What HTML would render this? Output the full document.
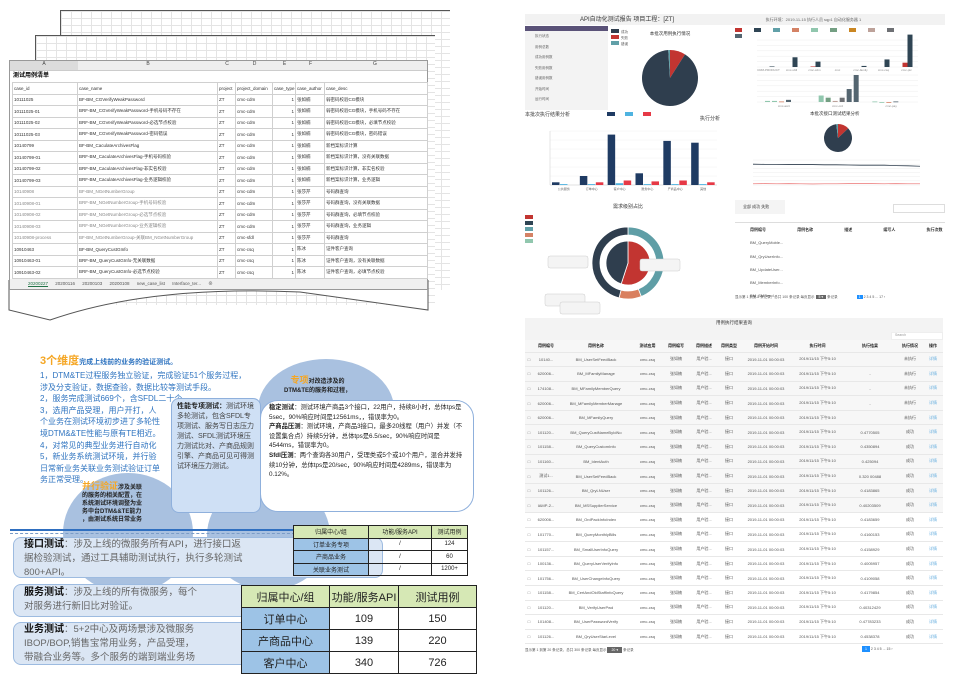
<!DOCTYPE html>
<html><head><meta charset="utf-8">
<style>
*{margin:0;padding:0;box-sizing:border-box}
body{width:954px;height:683px;background:#fff;position:relative;overflow:hidden;font-family:"Liberation Sans","Noto Sans CJK SC",sans-serif}
.a{position:absolute}
.grid{background-color:#fff;background-image:linear-gradient(#e4e4e4 1px,transparent 1px),linear-gradient(90deg,#e4e4e4 1px,transparent 1px);background-size:10px 7px}
table{border-collapse:collapse}
.xs td{font-size:4.5px;color:#333;border:1px solid #d0d0d0;height:11.5px;padding:0 1px;white-space:nowrap;overflow:hidden}
.bl{color:#2f74c0;font-size:8px;line-height:11.6px;white-space:nowrap}
.rt{font-size:10px;font-weight:bold;color:#111}
.bt td{border:1px solid #222;text-align:center}
.dt td{font-size:4px;color:#555;height:14.6px;border-bottom:1px solid #e8e8e8;text-align:center;white-space:nowrap;overflow:hidden}
</style></head><body>

<!-- spreadsheet stack -->
<div class="a grid" style="left:60px;top:10px;width:390px;height:280px;border-top:1.5px solid #555;border-left:1.5px solid #555"></div>
<div class="a grid" style="left:35px;top:35px;width:400px;height:270px;border-top:1.5px solid #555;border-left:1.5px solid #555"></div>
<svg class="a" style="left:0;top:280px" width="440" height="45"><path d="M9 0 V30 L50 40 Q150 5 300 12 L428 30 V0 Z" fill="#fff" stroke="#555" stroke-width="1"/><path d="M428 0 V30" stroke="#555"/></svg>
<div class="a" style="left:9px;top:60px;width:419px;height:230px;background:#fff;border:1px solid #999">
 <div style="height:10px;background:#eee;font-size:5px;color:#444;display:flex;border-bottom:1px solid #ccc">
  <span style="width:68px;text-align:center;background:#dcdcdc">A</span><span style="width:140px;text-align:center">B</span><span style="width:18px;text-align:center">C</span><span style="width:37px;text-align:center">D</span><span style="width:23px;text-align:center">E</span><span style="width:29px;text-align:center">F</span><span style="width:100px;text-align:center">G</span></div>
 <div style="height:11px;font-size:6px;font-weight:bold;padding-left:3px;line-height:11px">测试用例清单</div>
 <table class="xs" id="sheet" style="width:415px;margin-left:2px;table-layout:fixed">
  <colgroup><col style="width:65px"><col style="width:140px"><col style="width:18px"><col style="width:37px"><col style="width:23px"><col style="width:29px"><col style="width:103px"></colgroup>
 </table>
 <div style="position:absolute;left:0;top:218px;width:417px;height:10px;background:#f0f0f0;font-size:4.5px;color:#555;line-height:10px;padding-left:18px;word-spacing:6px"><span style="color:#217346;text-decoration:underline">20200227</span> 20200116 20200103 20200108 new_case_list Interface_ter... ⊕</div>
</div>

<!-- dashboard -->
<div class="a" style="left:525px;top:14px;width:420px;height:292px;background:#fff">
 <div style="height:11px;background:#f2f2f2;font-size:6px;color:#333;line-height:11px;padding-left:55px">API自动化测试报告 项目工程：[ZT] <span style="margin-left:90px;font-size:4px;color:#666">执行环境：2019-11-15 执行人员 sqp1 自动化服务器 1</span></div>
 <div style="position:absolute;left:0;top:12px;width:83px;height:84px;background:#f3f3f3">
  <div style="height:5px;background:#5a5278"></div>
  <div style="font-size:3.5px;color:#666;line-height:10.5px;padding-left:10px">执行状态<br>用例总数<br>成功用例数<br>失败用例数<br>错误用例数<br>开始时间<br>运行时间</div>
 </div>
 <svg class="a" style="left:83px;top:12px" width="150" height="86" id="pie1"></svg>
 <svg class="a" style="left:210px;top:12px" width="210" height="95" id="bars2"></svg>
 <svg class="a" style="left:0;top:96px" width="200" height="90" id="bars1"></svg>
 <svg class="a" style="left:170px;top:96px" width="230" height="90" id="trend"></svg>
 <svg class="a" style="left:0;top:186px" width="210" height="120" id="donut"></svg>
 <div style="position:absolute;left:210px;top:186px;width:210px;height:90px;font-size:4px;color:#333">
  <div style="height:14px;line-height:14px;padding-left:8px;background:#f4f4f4;width:50px">全部 成功 失败</div>
  <div style="position:absolute;right:0;top:4px;width:52px;height:9px;border:1px solid #ddd"></div>
  <div style="margin-top:8px;border-top:1px solid #ddd;line-height:13.3px;padding-left:15px;font-weight:bold;word-spacing:30px">用例编号 用例名称 描述 编写人 执行次数</div>
  <div style="line-height:13.3px;padding-left:15px;color:#555">BM_QueryMoble...<br>BM_QryUserInfo...<br>BM_UpdateUser...<br>BM_MemberInfo...<br>BM_SMSend...</div>
 </div>
 <div style="position:absolute;left:210px;top:278px;width:210px;height:10px;font-size:3.5px;color:#555;line-height:10px">显示第 1 到第 5 条记录，总共 100 条记录 每页显示 <span style="background:#666;color:#fff;padding:0 3px">5 ▾</span> 条记录 <span style="margin-left:18px;background:#1e90ff;color:#fff;padding:0 2px">1</span> 2 3 4 5 ... 17 ›</div>
</div>

<!-- slide bottom-left -->
<div class="a" style="left:0;top:330px;width:500px;height:353px">
 <div class="a" style="left:258px;top:29px;width:136px;height:100px;border-radius:50%;background:#a9c1e0"></div>
 <div class="a" style="left:63px;top:143px;width:130px;height:120px;border-radius:50%;background:#a9c1e0"></div>
 <div class="a" style="left:207px;top:150px;width:123px;height:110px;border-radius:50%;background:#a9c1e0"></div>
 <div class="a" style="left:40px;top:22px;font-size:11px;font-weight:bold;color:#f5a623">3个维度<span style="font-size:7px;color:#2f74c0">完成上线前的业务的验证测试。</span></div>
 <div class="a bl" style="left:40px;top:40px">1，DTM&amp;TE过程服务独立验证，完成验证51个服务过程，<br>涉及分支验证，数据查验，数据比较等测试手段。<br>2，服务完成测试669个，含SFDL二十个<br>3，选用产品受理，用户开打，人<br>个业务在测试环境初步进了多轮性<br>境DTM&amp;&amp;TE性能与原有TE相近。<br>4，对常见的典型业务进行自动化<br>5，新业务系统测试环境，并行验<br>日常新业务关联业务测试验证订单<br>务正常受理。</div>
 <div class="a" style="left:284px;top:46px;font-size:6px;color:#222;font-weight:bold;text-align:center;line-height:9px"><span style="color:#f5a623;font-size:9px">专项</span>对改造涉及的<br>DTM&amp;TE的服务和过程，</div>
 <div class="a" style="left:82px;top:152px;font-size:6px;color:#222;font-weight:bold;line-height:8px"><span style="color:#f5a623;font-size:9px">并行验证</span>涉及关联<br>的服务的相关配置，在<br>系统测试环境调整为业<br>务中台DTM&amp;&amp;TE能力<br>，由测试系统日常业务</div>
 <div class="a" style="left:222px;top:221px;font-size:6px;color:#222;font-weight:bold;line-height:8px">盖包括BOP、IBOP、UIG<br>接入、AOP接入。</div>
 <div class="a" style="left:171px;top:68px;width:90px;height:115px;background:#cfe0f5;border:1px solid #8fb0dc;border-radius:8px;font-size:7px;color:#444;line-height:10px;padding:3px 5px"><b style="color:#222">性能专项测试：</b>测试环境多轮测试，包含SFDL专项测试、服务写日志压力测试、SFDL测试环境压力测试比对、产商品规则引擎、产商品可见可得测试环境压力测试。</div>
 <div class="a" style="left:260px;top:70px;width:214px;height:112px;background:#fff;border:1px solid #8fb0dc;border-radius:18px;font-size:6.3px;color:#222;line-height:9.6px;padding:2px 8px 2px 8px"><b>稳定测试</b>：测试环境产商品3个接口，22用户，持续8小时，总体tps是5sec，90%响应时间是12561ms，，错误率为0。<br><b>产商品压测</b>：测试环境，产商品3接口，最多20线程（用户）并发（不设置集合点）持续5分钟，总体tps是6.5/sec，90%响应时间是4544ms，错误率为0。<br><b>Sfdl压测</b>：两个查询各30用户，受理类或5个或10个用户，混合并发持续10分钟，总体tps是20/sec，90%响应时间是4289ms，错误率为0.12%。</div>
 <div class="a" style="left:10px;top:199px;width:285px;height:2px;background:#2f6fc0"></div>
 <div class="a" style="left:10px;top:203px;width:285px;border-top:1px dashed #7a9cc8"></div>
 <div class="a" style="left:13px;top:207px;width:370px;height:41px;background:#dbe6f4;border:1.5px solid #9dbbe0;border-radius:8px;font-size:9.5px;color:#666;line-height:14px;padding:0 10px"><span class="rt">接口测试</span>：涉及上线的微服务所有API，进行接口返<br>据检验测试，通过工具辅助测试执行，执行多轮测试<br>800+API。</div>
 <div class="a" style="left:13px;top:254px;width:240px;height:33px;background:#dbe6f4;border:1.5px solid #9dbbe0;border-radius:8px;font-size:9.5px;color:#666;line-height:14px;padding:1px 10px;overflow:hidden;white-space:nowrap"><span class="rt">服务测试</span>：涉及上线的所有微服务，每个<br>对服务进行新旧比对验证。</div>
 <div class="a" style="left:13px;top:292px;width:240px;height:43px;background:#dbe6f4;border:1.5px solid #9dbbe0;border-radius:8px;font-size:9.5px;color:#666;line-height:14px;padding:0 10px;overflow:hidden;white-space:nowrap"><span class="rt">业务测试</span>：5+2中心及两场景涉及微服务<br>IBOP/BOP,销售宝常用业务，产品受理，<br>带融合业务等。多个服务的端到端业务场</div>
 <table class="a bt" style="left:293px;top:195px;width:175px;font-size:6px;color:#222">
  <tr style="height:12.5px;background:#d6e8b5"><td style="width:75px">归属中心/组</td><td style="width:63px">功能/服务API</td><td>测试用例</td></tr>
  <tr style="height:12.5px"><td style="background:#9dc3e6">订单业务专项</td><td>/</td><td>124</td></tr>
  <tr style="height:12.5px"><td style="background:#9dc3e6">产商品业务</td><td>/</td><td>60</td></tr>
  <tr style="height:12.5px"><td style="background:#9dc3e6">关联业务测试</td><td>/</td><td>1200+</td></tr>
 </table>
 <table class="a bt" style="left:241px;top:255px;width:236px;font-size:11px;color:#222">
  <tr style="height:22px;background:#d6e8b5"><td style="width:88px">归属中心/组</td><td style="width:69px">功能/服务API</td><td>测试用例</td></tr>
  <tr style="height:22px"><td style="background:#9dc3e6">订单中心</td><td>109</td><td>150</td></tr>
  <tr style="height:22px"><td style="background:#9dc3e6">产商品中心</td><td>139</td><td>220</td></tr>
  <tr style="height:22px"><td style="background:#9dc3e6">客户中心</td><td>340</td><td>726</td></tr>
 </table>
</div>

<!-- bottom-right list -->
<div class="a" style="left:525px;top:318px;width:418px;height:340px;background:#fff">
 <div style="height:22px;background:#f3f3f3;font-size:4.5px;text-align:center;color:#333;line-height:10px">用例执行结果查询</div>
 <div style="position:absolute;right:0;top:14px;width:52px;height:8px;background:#fff;border:1px solid #eee;font-size:3.5px;color:#999;padding-left:3px">Search</div>
 <table class="dt" id="dtab" style="width:418px;table-layout:fixed;background:#f7f7f7"></table>
 <div style="position:absolute;left:0;top:330px;width:418px;font-size:3.5px;color:#555">显示第 1 到第 20 条记录，总共 300 条记录 每页显示 <span style="background:#666;color:#fff;padding:1px 4px">20 ▾</span> 条记录<span style="position:absolute;left:337px;top:-1px"><span style="background:#1e90ff;color:#fff;padding:1px 3px">1</span> 2 3 4 5 ... 15 ›</span></div>
</div>

<script>
var NS='http://www.w3.org/2000/svg';
function el(p,t,a){var e=document.createElementNS(NS,t);for(var k in a)e.setAttribute(k,a[k]);p.appendChild(e);return e;}
// spreadsheet data
var caseIds=['10111025','10111025-01','10111025-02','10111025-03','10140799','10140799-01','10140799-02','10140799-03','10140908','10140908-01','10140908-02','10140908-03','10140908-process','10910463','10910463-01','10910463-02'];
var caseNames=['BF-BM_CGVerifyWeakPassword','BRF-BM_CGVerifyWeakPassword-手机号码不存在','BRF-BM_CGVerifyWeakPassword-必选节点校验','BRF-BM_CGVerifyWeakPassword-密码错误','BF-BM_CaculateArchivesFlag','BRF-BM_CaculateArchivesFlag-手机号码校验','BRF-BM_CaculateArchivesFlag-非实名校验','BRF-BM_CaculateArchivesFlag-业务逻辑校验','BF-BM_NGetNumberGroup','BRF-BM_NGetNumberGroup-手机号码校验','BRF-BM_NGetNumberGroup-必选节点校验','BRF-BM_NGetNumberGroup-业务逻辑校验','BF-BM_NGetNumberGroup-关联BM_NGetNumberGroup','BF-BM_QueryCustGInfo','BRF-BM_QueryCustGInfo-无关联数据','BRF-BM_QueryCustGInfo-必选节点校验'];
var caseDomains=['cmc-cdm','cmc-cdm','cmc-cdm','cmc-cdm','cmc-cdm','cmc-cdm','cmc-cdm','cmc-cdm','cmc-cdm','cmc-cdm','cmc-cdm','cmc-cdm','cmc-sfdl','cmc-csq','cmc-csq','cmc-csq'];
var caseAuthors=['张如楠','张如楠','张如楠','张如楠','张如楠','张如楠','张如楠','张如楠','张莎芹','张莎芹','张莎芹','张莎芹','张莎芹','陈冰','陈冰','陈冰'];
var caseDescs=['弱密码校验CG模块','弱密码校验CG模块，手机号码不存在','弱密码校验CG模块，必填节点校验','弱密码校验CG模块，密码错误','新档案标识计算','新档案标识计算，没有关联数据','新档案标识计算，非实名校验','新档案标识计算，业务逻辑','号码群查询','号码群查询，没有关联数据','号码群查询，必填节点校验','号码群查询，业务逻辑','号码群查询','证件客户查询','证件客户查询，没有关联数据','证件客户查询，必填节点校验'];
var sh=document.getElementById('sheet');
var hr=sh.insertRow();
['case_id','case_name','project','project_domain','case_type','case_author','case_desc'].forEach(function(h){var c=hr.insertCell();c.textContent=h;});
for(var i=0;i<caseIds.length;i++){var r=sh.insertRow();


[caseIds[i],caseNames[i],'ZT',caseDomains[i],'1',caseAuthors[i],caseDescs[i]].forEach(function(v,j){var c=r.insertCell();c.textContent=v;if(j==4)c.style.textAlign='right';if(i>=8&&i<=12&&(j==0||j==1))c.style.color='#888';});}

// pie 1
var pieLabels=['成功','失败','错误'];
var pieValues=[90,9,1];
var pieColors=['#2f3e4e','#c23531','#61a0a8'];
(function(){var s=document.getElementById('pie1');var cx=62,cy=52,r=28;var tot=pieValues.reduce(function(a,b){return a+b},0);
var t=el(s,'text',{x:62,y:9,'font-size':4.5,'text-anchor':'middle',fill:'#333'});t.textContent='本批次用例执行情况';
pieLabels.forEach(function(l,i){var rr=el(s,'rect',{x:3,y:3+i*6,width:8,height:4,fill:pieColors[i]});var tt=el(s,'text',{x:13,y:7+i*6,'font-size':3.5,fill:'#555'});tt.textContent=l;});
var order=[1,0,2];var ang=-Math.PI/2;order.forEach(function(i){var a=pieValues[i]/tot*2*Math.PI;var x1=cx+r*Math.cos(ang),y1=cy+r*Math.sin(ang),x2=cx+r*Math.cos(ang+a),y2=cy+r*Math.sin(ang+a);
var p=el(s,'path',{d:'M'+cx+' '+cy+'L'+x1+' '+y1+'A'+r+' '+r+' 0 '+(a>Math.PI?1:0)+' 1 '+x2+' '+y2+'Z',fill:pieColors[i]});ang+=a;});})();

// bar charts top right
var appCats=['CRM-PRODUCT','cmc-sfdl','cmc-cdm','cmc','cmc-family','cmc-csq','cmc-ptc'];
var appSeriesA=[0,18,0,0,0,0,12];
var appSeriesB=[1,0,10,0,2,14,48];
var appSeriesR=[0,0,1,0,0,0,8];
var appCats2=['cmc-acct','cmc-ord','cmc-pay'];
var app2Values=[[2,2,1,4],[12,8,2,8,24,50],[1,0,0,1]];
(function(){var s=document.getElementById('bars2');var cols=['#c23531','#2f4554','#61a0a8','#d48265','#91c7ae','#749f83','#ca8622','#bda29a','#6e7074','#546570'];
for(var i=0;i<10;i++){el(s,'rect',{x:(i<9?i*19:0),y:(i<9?2:8),width:7,height:4,fill:cols[i]});}
var X0=22,X1=183;
function chart(y0,h){for(var k=0;k<=5;k++){el(s,'line',{x1:X0,x2:X1,y1:y0+h-h*k/5,y2:y0+h-h*k/5,stroke:'#eee','stroke-width':0.5});}}
chart(14,27);chart(49,27);
var w=(X1-X0)/appCats.length;var sy=function(v){return 41-v/50*27};
appCats.forEach(function(c,i){var x0=X0+i*w;
[appSeriesR[i],appSeriesA[i]+appSeriesB[i]].forEach(function(v,j){var b=el(s,'rect',{x:x0+w/2-4+j*5,y:sy(v),width:5,height:41-sy(v),fill:j?'#2f4554':'#c23531'});});
var t=el(s,'text',{x:x0+w/2,y:45,'font-size':3,'text-anchor':'middle',fill:'#888'});t.textContent=c;});
var w2=(X1-X0)/appCats2.length;var c2=['#91c7ae','#91c7ae','#d48265','#546570'];
appCats2.forEach(function(c,i){var vs=app2Values[i];vs.forEach(function(v,j){var x=X0+i*w2+8+j*7;var h=v/50*27;var b=el(s,'rect',{x:x,y:76-h,width:5,height:Math.max(h,0.8),fill:i==1?['#91c7ae','#749f83','#bda29a','#6e7074','#546570','#546570'][j]:c2[j]});});
var t=el(s,'text',{x:X0+i*w2+w2/2,y:81,'font-size':3,'text-anchor':'middle',fill:'#888'});t.textContent=c;});})();

// module bar chart
var modCats=['公共服务','订单中心','客户中心','账务中心','产商品中心','其他'];
var modSuccess=[3,10,56,13,49,47];
var modFail=[1,1,2,1,1,1];
var modError=[0,3,5,4,5,3];
(function(){var s=document.getElementById('bars1');var t=el(s,'text',{x:0,y:6,'font-size':5,fill:'#333'});t.textContent='本批次执行结果分析';
[['#1f3b63','成功'],['#4fb3e0','失败'],['#e63946','错误']].forEach(function(c,i){el(s,'rect',{x:82+i*18,y:2,width:8,height:4,fill:c[0]});});
var x0=25,x1=192,yb=75,yt=21,max=60;var sy=function(v){return yb-(v/max)*(yb-yt)};
for(var k=0;k<=6;k++)el(s,'line',{x1:x0,x2:x1,y1:yb-k*(yb-yt)/6,y2:yb-k*(yb-yt)/6,stroke:'#f0f0f0','stroke-width':0.5});
el(s,'line',{x1:x0,x2:x0,y1:yt,y2:yb,stroke:'#ccc','stroke-width':0.5});el(s,'line',{x1:x0,x2:x1,y1:yb,y2:yb,stroke:'#ccc','stroke-width':0.5});
var w=(x1-x0)/modCats.length;
modCats.forEach(function(c,i){[[modSuccess[i],'#1f3b63'],[modFail[i],'#4fb3e0'],[modError[i],'#e63946']].forEach(function(d,j){var b=el(s,'rect',{x:x0+i*w+2+j*8,y:sy(d[0]),width:7.5,height:yb-sy(d[0]),fill:d[1]});});
var tt=el(s,'text',{x:x0+i*w+w/2,y:80,'font-size':3,'text-anchor':'middle',fill:'#666'});tt.textContent=c;});})();

// trend chart + small pie
var trendX=['1','2','3','4','5','6','7','8','9','10','11','12','13','14','15'];
var trendTotal=[100,99,99,98,98,98,97,97,96,95,95,95,93,92,90];
var trendFail=[6,7,6,7,6,5,6,6,7,7,7,6,7,6,6];
var pie2Values=[85,13,2];
(function(){var s=document.getElementById('trend');var t=el(s,'text',{x:5,y:10,'font-size':5,fill:'#333'});t.textContent='执行分析';
var t2=el(s,'text',{x:115,y:5,'font-size':4.5,fill:'#333'});t2.textContent='本批次接口测试结果分析';
var cx=143,cy=28,r=14,tot=100,ang=-Math.PI/2;[[pie2Values[1],'#c23531'],[pie2Values[0],'#2f3e4e'],[pie2Values[2],'#61a0a8']].forEach(function(d){var a=d[0]/tot*2*Math.PI;var p=el(s,'path',{d:'M'+cx+' '+cy+'L'+(cx+r*Math.cos(ang))+' '+(cy+r*Math.sin(ang))+'A'+r+' '+r+' 0 '+(a>Math.PI?1:0)+' 1 '+(cx+r*Math.cos(ang+a))+' '+(cy+r*Math.sin(ang+a))+'Z',fill:d[1]});ang+=a;});
var x0=58,x1=225,yb=75,yt=50,max=120;var sx=function(i){return x0+i*(x1-x0)/(trendX.length-1)};var sy=function(v){return yb-v/max*(yb-yt)};
for(var k=0;k<=6;k++)el(s,'line',{x1:x0,x2:x1,y1:yb-k*(yb-yt)/6,y2:yb-k*(yb-yt)/6,stroke:'#eee','stroke-width':0.5});
var p1=el(s,'polyline',{points:trendTotal.map(function(v,i){return sx(i)+','+sy(v)}).join(' '),fill:'none',stroke:'#2f3e4e','stroke-width':0.8});
var p2=el(s,'polyline',{points:trendFail.map(function(v,i){return sx(i)+','+sy(v)}).join(' '),fill:'none',stroke:'#e88','stroke-width':0.8});})();

// donut
var donutLabels=['一级','二级','三级','四级','五级'];
var donutOuter=[46,0,44,10,0];
var donutInner=[45,55];
(function(){var s=document.getElementById('donut');
['#c23531','#2f4554','#61a0a8','#d48265','#91c7ae'].forEach(function(c,i){el(s,'rect',{x:0,y:15+i*6,width:8,height:4,fill:c});});
var t=el(s,'text',{x:103,y:8,'font-size':5,'text-anchor':'middle',fill:'#333'});t.textContent='需求级别占比';
var cx=103,cy=63;function arc(r1,r2,a,b,c,n){var p=el(s,'path',{d:'M'+(cx+r2*Math.cos(a))+' '+(cy+r2*Math.sin(a))+'A'+r2+' '+r2+' 0 '+(b-a>Math.PI?1:0)+' 1 '+(cx+r2*Math.cos(b))+' '+(cy+r2*Math.sin(b))+'L'+(cx+r1*Math.cos(b))+' '+(cy+r1*Math.sin(b))+'A'+r1+' '+r1+' 0 '+(b-a>Math.PI?1:0)+' 0 '+(cx+r1*Math.cos(a))+' '+(cy+r1*Math.sin(a))+'Z',fill:c,stroke:'#fff','stroke-width':0.8});}
var tot=donutOuter.reduce(function(a,b){return a+b}),a=-Math.PI/2;var ord=[2,3,0];ord.forEach(function(i){var d=donutOuter[i]/tot*2*Math.PI;arc(28,36,a,a+d,['#2f3e4e','#c23531','#5f9ea6','#d9805f','#91c7ae'][i],'donut-outer-slice');a+=d;});
var ti=donutInner[0]+donutInner[1];a=-Math.PI/2;[[donutInner[1],'#c23531'],[donutInner[0],'#2f3e4e']].forEach(function(d){var dd=d[0]/ti*2*Math.PI;arc(0,22,a,a+dd,d[1],'donut-inner-slice');a+=dd;});
[[58,66],[150,69],[55,104],[70,112]].forEach(function(p){el(s,'rect',{x:p[0]-35,y:p[1]-10,width:40,height:12,fill:'#f4f4f4',stroke:'#ccc','stroke-width':0.5,rx:2});});})();

// execution table
var exIds=['10140...','620006...','174108...','620006...','620006...','101120...','101158...','101160...','测试1...','101126...','IAMP-2...','620006...','101770...','101157...','100136...','101756...','101158...','101120...','101408...','101126...'];
var exNames=['BM_UserSetFeedBack','BM_MFamilyManage','BM_MFamilyMemberQuery','BM_MFamilyMemberManage','BM_MFamilyQuery','BM_QueryCustNameByIdNo','BM_QueryCustomInfo','BM_IdentAuth','BM_UserSetFeedBack','BM_QryLNUser','BM_MSSupplierService','BM_OrdPackInfoIndex','BM_QueryMonthlyBills','BM_SmallUserInfoQuery','BM_QueryUserVerifyInfo','BM_UserChangeInfoQuery','BM_CertAndOldStaffInfoQuery','BM_VerifyUserPwd','BM_UserPasswordVerify','BM_QryUserStarLevel'];
var exResults=['','-','-','-','','0.4770505','0.4350894','0.425094','0.320 00488','0.4183865','0.40203509','0.4183659','0.4160153','0.4158929','0.4005957','0.4109058','0.4179854','0.40312429','0.47783233','0.4538378'];
(function(){var t=document.getElementById('dtab');var widths=[8,26,74,29,28,28,22,52,51,54,26,20];var heads=['','用例编号','用例名称','测试应用','用例编写','用例描述','用例类型','用例开始时间','执行时间','执行结果','执行情况','操作'];
var cg=document.createElement('colgroup');widths.forEach(function(w){var c=document.createElement('col');c.style.width=w+'px';cg.appendChild(c);});t.appendChild(cg);
var h=t.insertRow();heads.forEach(function(x){var c=h.insertCell();c.textContent=x;c.style.fontWeight='bold';c.style.color='#222';c.style.height='12px';});
for(var i=0;i<exIds.length;i++){var r=t.insertRow();


if(i>=11)r.style.background='#fff';
['□',exIds[i],exNames[i],'cmc-csq','张如楠','用户验...','接口','2019-11-01 00:00:03','2019/11/15 下午5:10',exResults[i],i<5?'未执行':'成功','详情'].forEach(function(v,j){var c=r.insertCell();c.textContent=v;if(j==11)c.style.color='#6ab0e0';});}})();
</script>
</body></html>
